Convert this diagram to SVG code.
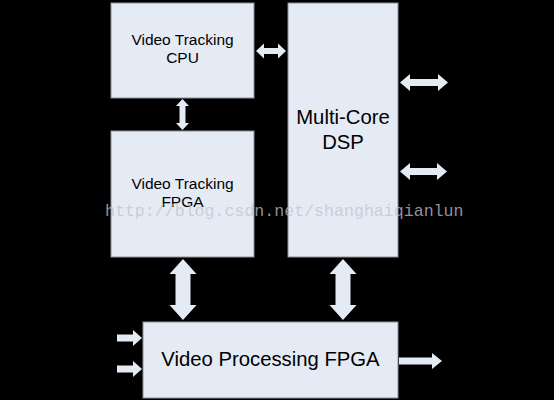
<svg xmlns="http://www.w3.org/2000/svg" width="554" height="400" viewBox="0 0 554 400">
<style>
.box{fill:#e5ebf5;stroke:#8a8f99;stroke-width:1}
.t{font-family:"Liberation Sans",Arial,sans-serif;fill:#000;text-anchor:middle}
.s{font-size:15.5px}
.l{font-size:20.3px}
.ar{fill:#e5ebf5}
.wm{font-family:"Liberation Mono","Courier New",monospace;font-size:16.6px;fill:#c0c4cc;fill-opacity:0.75}
</style>
<rect width="554" height="400" fill="#000"/>
<g id="cpu"><rect class="box" x="111" y="3" width="143" height="95"/><text class="t s" x="182.5" y="45">Video Tracking</text><text class="t s" x="182.5" y="63">CPU</text></g>
<g id="trkfpga"><rect class="box" x="111" y="131" width="143" height="126"/><text class="t s" x="182.5" y="189">Video Tracking</text><text class="t s" x="182.5" y="207">FPGA</text></g>
<g id="dsp"><rect class="box" x="288" y="3" width="110" height="254"/><text class="t l" x="343" y="124">Multi-Core</text><text class="t l" x="343" y="149">DSP</text></g>
<g id="vpf"><rect class="box" x="143" y="322" width="255" height="76"/><text class="t l" x="270.5" y="366">Video Processing FPGA</text></g>
<g id="connectors">
<polygon class="ar" points="256,51 264,43.5 264,48 278,48 278,43.5 286,51 278,58.5 278,54 264,54 264,58.5"/>
<polygon class="ar" points="182.5,99 189,106 185.5,106 185.5,123 189,123 182.5,130 176,123 179.5,123 179.5,106 176,106"/>
<polygon class="ar" points="400,82.5 410,74 410,79 438,79 438,74 448,82.5 438,91 438,86 410,86 410,91"/>
<polygon class="ar" points="400,171.5 410,163 410,168 437,168 437,163 447,171.5 437,180 437,175 410,175 410,180"/>
<polygon class="ar" points="183,259 196.5,274 190.5,274 190.5,305 196.5,305 183,320 169.5,305 175.5,305 175.5,274 169.5,274"/>
<polygon class="ar" points="343,259 356.5,274 350.5,274 350.5,305 356.5,305 343,320 329.5,305 335.5,305 335.5,274 329.5,274"/>
<polygon class="ar" points="117,334.5 133,334.5 133,330 142,338 133,346 133,341.5 117,341.5"/>
<polygon class="ar" points="117,365.5 133,365.5 133,361 142,369 133,377 133,372.5 117,372.5"/>
<polygon class="ar" points="399,357.5 432,357.5 432,353 442,361 432,369 432,364.5 399,364.5"/>
</g>
<text class="wm" x="105" y="216">http://blog.csdn.net/shanghaiqianlun</text>
</svg>
